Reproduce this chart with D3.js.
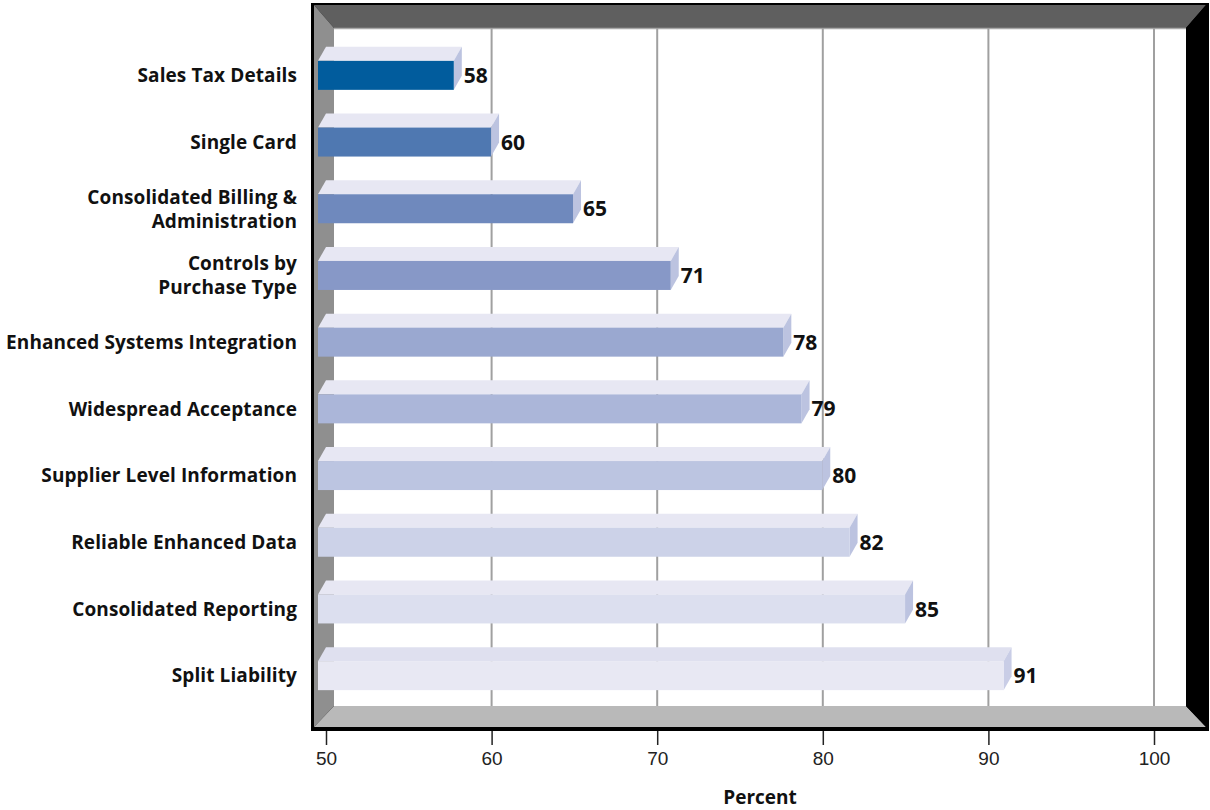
<!doctype html>
<html>
<head>
<script src="https://cdnjs.cloudflare.com/ajax/libs/d3/7.8.5/d3.min.js"></script>
<style>
body { margin: 0; background: #fff; }
svg { font-family: "Open Sans", "Liberation Sans", sans-serif; }
.cat { font-size: 19px; font-weight: 700; fill: #111; letter-spacing: 0.1px; }
.val { font-size: 21px; font-weight: 700; fill: #111; }
.tick text { font-size: 19px; fill: #222; }
</style>
</head>
<body>
<svg width="1210" height="810"></svg>
<script>
// data (bar lengths carry a fraction, labels are rounded)
var categories = [
  ["Sales Tax Details"],
  ["Single Card"],
  ["Consolidated Billing &", "Administration"],
  ["Controls by", "Purchase Type"],
  ["Enhanced Systems Integration"],
  ["Widespread Acceptance"],
  ["Supplier Level Information"],
  ["Reliable Enhanced Data"],
  ["Consolidated Reporting"],
  ["Split Liability"]
];
var values = [58.2, 60.45, 65.4, 71.3, 78.1, 79.2, 80.45, 82.1, 85.45, 91.4];
var barColors = ["#015c9d", "#4f78b1", "#6f89bd", "#8798c7", "#9aa8d0",
                 "#abb6d9", "#bcc5e1", "#ccd2e8", "#dcdfef", "#e8e8f3"];
var xTicks = [50, 60, 70, 80, 90, 100];

var svg = d3.select("svg");

// back wall box
var L = 334, R = 1186, T = 28, B = 706;
var oL = 314, oR = 1206, oT = 5, oB = 727;

var x = d3.scaleLinear().domain([50, 100]).range([326, 1154]);
var y = d3.scaleBand().domain(d3.range(categories.length)).range([42, 709]);

// depth of the bars
var dx = 8, dy = 14, frontH = 29;

// frame
svg.append("rect").attr("x", 311).attr("y", 3).attr("width", 898).attr("height", 728).attr("fill", "#000");
svg.append("rect").attr("x", L).attr("y", T).attr("width", R - L).attr("height", B - T).attr("fill", "#fff");
var poly = function(pts, fill) {
  svg.append("polygon").attr("points", pts.map(p => p.join(",")).join(" ")).attr("fill", fill);
};
poly([[oL, oT], [oR, oT], [R, T], [L, T]], "#5f5f5f");
poly([[oL, oT], [L, T], [L, B], [oL, oB]], "#8f8f8f");
poly([[L, B], [R, B], [oR, oB], [oL, oB]], "#b9b9b9");
poly([[R, T], [oR, oT], [oR, oB], [R, B]], "#000");
svg.append("line").attr("x1", L).attr("x2", R).attr("y1", T + 0.5).attr("y2", T + 0.5)
  .attr("stroke", "#a8a8a8").attr("stroke-width", 1.5);

// gridlines on the back wall
svg.append("g").selectAll("line")
  .data(xTicks.filter(d => x(d) > L))
  .enter().append("line")
  .attr("x1", d => x(d)).attr("x2", d => x(d))
  .attr("y1", T).attr("y2", B)
  .attr("stroke", "#a0a0a0").attr("stroke-width", 2);

// bars
var x0 = x(50) - dx;
var bars = svg.append("g").selectAll("g.bar")
  .data(values)
  .enter().append("g").attr("class", "bar");

bars.each(function(v, i) {
  var g = d3.select(this);
  var cy = y(i) + y.bandwidth() / 2;
  var yt = cy - frontH / 2, yb = cy + frontH / 2;
  var xe = x(v) - dx;
  var pts = function(a) { return a.map(p => p.join(",")).join(" "); };
  g.append("polygon")
    .attr("points", pts([[x0, yt], [x0 + dx, yt - dy], [xe + dx, yt - dy], [xe, yt]]))
    .attr("fill", i == 9 ? "#dfe0ef" : "#e7e7f3");
  g.append("polygon")
    .attr("points", pts([[xe, yt], [xe + dx, yt - dy], [xe + dx, yb - dy], [xe, yb]]))
    .attr("fill", i == 9 ? "#c9cde6" : "#bcc3e0");
  g.append("rect")
    .attr("x", x0).attr("y", yt).attr("width", xe - x0).attr("height", frontH)
    .attr("fill", barColors[i]);
  g.append("text").attr("class", "val")
    .attr("x", xe + dx + 2).attr("y", cy).attr("dy", "0.36em")
    .text(Math.round(v));
});

// category labels
svg.append("g").selectAll("text")
  .data(categories)
  .enter().append("text")
  .attr("class", "cat")
  .attr("text-anchor", "end")
  .each(function(lines, i) {
    var cy = y(i) + y.bandwidth() / 2;
    var t = d3.select(this);
    lines.forEach(function(s, j) {
      t.append("tspan")
        .attr("x", 297)
        .attr("y", cy + (j - (lines.length - 1) / 2) * 24)
        .attr("dy", "0.36em")
        .text(s);
    });
  });

// x axis
var axis = svg.append("g").attr("transform", "translate(0,731)")
  .call(d3.axisBottom(x).tickValues(xTicks).tickSize(14).tickPadding(7));
axis.select(".domain").remove();
axis.selectAll(".tick line").attr("stroke", "#222").attr("stroke-width", 1.5);

svg.append("text")
  .attr("x", 760).attr("y", 797).attr("dy", "0.36em")
  .attr("text-anchor", "middle")
  .style("font-size", "19px").style("font-weight", 700).style("fill", "#111")
  .text("Percent");
</script>
</body>
</html>
